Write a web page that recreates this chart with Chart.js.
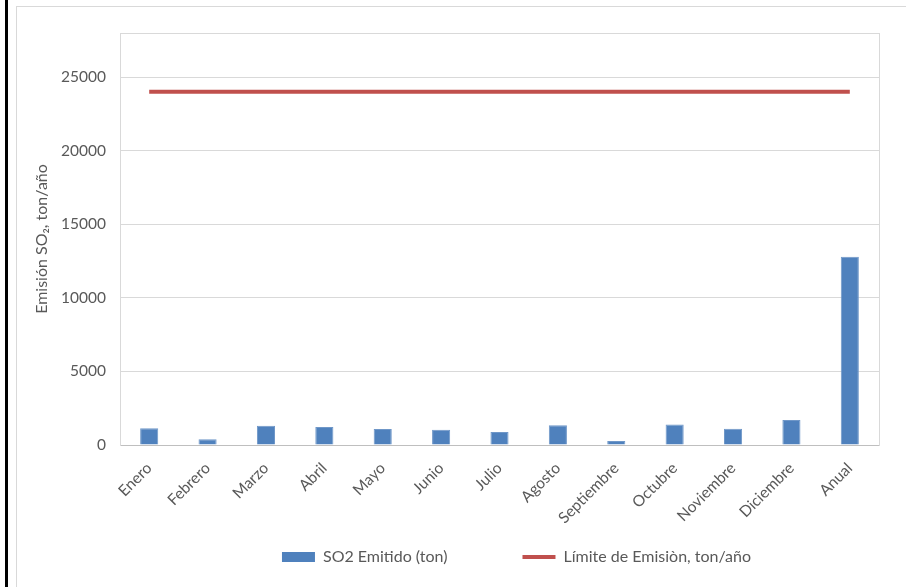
<!DOCTYPE html>
<html>
<head>
<meta charset="utf-8">
<script src="https://cdn.jsdelivr.net/npm/chart.js@4.4.0/dist/chart.umd.min.js"></script>
<style>
  html, body { margin: 0; padding: 0; background: #fff; }
  #wrap { position: relative; width: 906px; height: 587px; overflow: hidden; }
  #blackLine { position: absolute; left: 5px; top: 0; width: 3px; height: 587px; background: #000; }
  #frame { position: absolute; left: 16px; top: 6px; width: 900px; height: 600px; border: 1px solid #d9d9d9; box-sizing: border-box; }
  #chartBox { position: absolute; left: 0; top: 0; width: 906px; height: 587px; }
</style>
</head>
<body>
<div id="wrap">
  <div id="blackLine"></div>
  <div id="frame"></div>
  <div id="chartBox"><canvas id="chart"></canvas></div>
</div>
<script>
// Datos
const meses = ['Enero', 'Febrero', 'Marzo', 'Abril', 'Mayo', 'Junio', 'Julio',
    'Agosto', 'Septiembre', 'Octubre', 'Noviembre', 'Diciembre', 'Anual'];
const so2Emitido = [1140, 390, 1310, 1220, 1090, 1040, 880, 1340, 270, 1400, 1110, 1700, 12800];
const limiteEmision = [24000, 24000, 24000, 24000, 24000, 24000, 24000,
    24000, 24000, 24000, 24000, 24000, 24000];
const yTicks = [0, 5000, 10000, 15000, 20000, 25000];

const textColor = '#595959';
const fontFamily = 'Lato, "Open Sans", sans-serif';

// coloca la leyenda donde está en el original
const legendShift = {
    id: 'legendShift',
    afterLayout(chart) {
        const dx = 67, dy = -61;
        chart.legend.left += dx;
        chart.legend.right += dx;
        chart.legend.top += dy;
        chart.legend.bottom = chart.height;
    }
};

const ctx = document.getElementById('chart').getContext('2d');
new Chart(ctx, {
    data: {
        labels: meses,
        datasets: [{
            type: 'bar',
            label: 'SO2 Emitido (ton)',
            data: so2Emitido,
            backgroundColor: '#4f81bd',
            borderColor: '#6f97c8',
            borderWidth: 1,
            barPercentage: 0.31,
            categoryPercentage: 1,
            order: 2
        }, {
            type: 'line',
            label: 'Límite de Emisiòn, ton/año',
            data: limiteEmision,
            borderColor: '#c0504d',
            backgroundColor: '#c0504d',
            borderWidth: 4,
            pointRadius: 0,
            fill: false,
            order: 1
        }]
    },
    plugins: [legendShift],
    options: {
        responsive: true,
        maintainAspectRatio: false,
        animation: false,
        layout: { padding: { left: 20, right: 27, top: 33, bottom: 12 } },
        plugins: {
            tooltip: { enabled: false },
            legend: {
                position: 'bottom',
                maxHeight: 40,
                labels: {
                    color: textColor,
                    font: { family: fontFamily, size: 16 },
                    usePointStyle: true,
                    pointStyleWidth: 33,
                    boxHeight: 10,
                    padding: 75,
                    generateLabels: (chart) => chart.data.datasets.map((ds, i) => ({
                        text: ds.label,
                        fillStyle: ds.type === 'bar' ? '#4f81bd' : '#c0504d',
                        strokeStyle: ds.type === 'bar' ? '#4f81bd' : '#c0504d',
                        lineWidth: ds.type === 'bar' ? 0 : 4,
                        pointStyle: ds.type === 'bar' ? 'rect' : 'line',
                        fontColor: textColor,
                        datasetIndex: i,
                        hidden: false
                    }))
                }
            }
        },
        scales: {
            x: {
                grid: { display: false },
                border: { color: '#bfbfbf', width: 1 },
                ticks: {
                    color: textColor,
                    font: { family: fontFamily, size: 15.5 },
                    maxRotation: 45,
                    minRotation: 45,
                    autoSkip: false,
                    padding: 6
                },
                afterFit: (scale) => { scale.height = 90; }
            },
            y: {
                min: 0,
                max: 28000,
                afterBuildTicks: (scale) => {
                    scale.ticks = yTicks.concat([28000]).map(v => ({ value: v }));
                },
                ticks: {
                    color: textColor,
                    font: { family: fontFamily, size: 15.5 },
                    padding: 14,
                    callback: (v) => yTicks.includes(v) ? String(v) : ''
                },
                grid: { color: '#d9d9d9', drawTicks: false },
                border: { color: '#d9d9d9' },
                title: {
                    display: true,
                    text: 'Emisión SO₂, ton/año',
                    color: textColor,
                    font: { family: fontFamily, size: 16 },
                    padding: { top: 12, bottom: 0 }
                },
                afterFit: (scale) => { scale.width = 100; }
            },
            y2: {
                position: 'right',
                min: 0,
                max: 28000,
                ticks: { display: false },
                grid: { display: false, drawTicks: false },
                border: { color: '#d9d9d9' },
                afterFit: (scale) => { scale.width = 0; }
            }
        }
    }
});
</script>
</body>
</html>
